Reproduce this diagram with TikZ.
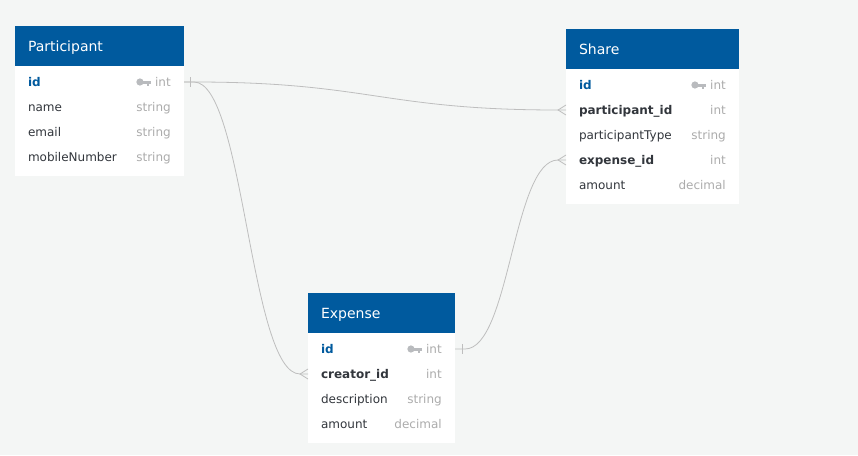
\documentclass[tikz,border=0pt]{standalone}
\usepackage{fontspec}
\setmainfont{DejaVu Sans}
\usetikzlibrary{calc,positioning}
\definecolor{bgcol}{RGB}{244,246,245}
\definecolor{hdrblue}{RGB}{0,90,158}
\definecolor{darktxt}{RGB}{50,54,60}
\definecolor{typegray}{RGB}{172,172,172}
\definecolor{keygray}{RGB}{185,187,190}
\definecolor{linkgray}{RGB}{190,190,190}
\newcommand{\rowfont}{\fontsize{12}{14}\selectfont}
\newcommand{\hdrfont}{\fontsize{14}{16}\selectfont}
\newcommand{\keyicon}[1]{%
  \fill[keygray] ($(#1.west)+(-15,0)$) circle (3.6);
  \fill[keygray] ($(#1.west)+(-13,-1.5)$) rectangle ($(#1.west)+(-4,1.5)$);
  \fill[keygray] ($(#1.west)+(-7.5,1.5)$) rectangle ($(#1.west)+(-5.5,3.5)$);}
\tikzset{
  hdr/.style={fill=hdrblue, text=white, font=\hdrfont, anchor=north west,
    minimum height=40pt, inner xsep=13pt, inner ysep=0pt, outer sep=0pt,
    text width=#1, align=left, text height=13.5pt, text depth=3pt},
  row/.style={font=\rowfont, text=darktxt, minimum height=25pt, inner xsep=13pt,
    inner ysep=0pt, outer sep=0pt, text width=#1, align=left,
    text height=11pt, text depth=2.5pt},
  pkey/.style={font=\rowfont\bfseries, text=hdrblue},
  fkey/.style={font=\rowfont\bfseries},
  typ/.style={font=\rowfont, text=typegray, inner sep=0pt, anchor=east,
    text height=11pt, text depth=2.5pt},
  link/.style={draw=linkgray, line width=0.8pt}
}
\begin{document}
\begin{tikzpicture}[x=1pt,y=-1pt]
  \fill[bgcol] (0,0) rectangle (858,455);
  \useasboundingbox (0,0) rectangle (858,455);

  % Participant
  \node[hdr=143pt] (participant) at (15,26) {Participant};
  \node[row=143pt, below=3.5pt of participant] (participant-id) {};
  \node[row=143pt, below=0pt of participant-id] (participant-name) {};
  \node[row=143pt, below=0pt of participant-name] (participant-email) {};
  \node[row=143pt, below=0pt of participant-email] (participant-mobile) {};
  \fill[white] (participant.south west) rectangle ([yshift=-6.5pt]participant-mobile.south east);
  \node[row=143pt, pkey] at (participant-id) {id};
  \node[row=143pt] at (participant-name) {name};
  \node[row=143pt] at (participant-email) {email};
  \node[row=143pt] at (participant-mobile) {mobileNumber};
  \node[typ] (participant-id-t) at ([xshift=-13pt]participant-id.east) {int};
  \node[typ] at ([xshift=-13pt]participant-name.east) {string};
  \node[typ] at ([xshift=-13pt]participant-email.east) {string};
  \node[typ] at ([xshift=-13pt]participant-mobile.east) {string};
  \keyicon{participant-id-t}

  % Share
  \node[hdr=147pt] (share) at (566,29) {Share};
  \node[row=147pt, below=3.5pt of share] (share-id) {};
  \node[row=147pt, below=0pt of share-id] (share-pid) {};
  \node[row=147pt, below=0pt of share-pid] (share-ptype) {};
  \node[row=147pt, below=0pt of share-ptype] (share-eid) {};
  \node[row=147pt, below=0pt of share-eid] (share-amount) {};
  \fill[white] (share.south west) rectangle ([yshift=-6.5pt]share-amount.south east);
  \node[row=147pt, pkey] at (share-id) {id};
  \node[row=147pt, fkey] at (share-pid) {participant\_id};
  \node[row=147pt] at (share-ptype) {participantType};
  \node[row=147pt, fkey] at (share-eid) {expense\_id};
  \node[row=147pt] at (share-amount) {amount};
  \node[typ] (share-id-t) at ([xshift=-13pt]share-id.east) {int};
  \node[typ] at ([xshift=-13pt]share-pid.east) {int};
  \node[typ] at ([xshift=-13pt]share-ptype.east) {string};
  \node[typ] at ([xshift=-13pt]share-eid.east) {int};
  \node[typ] at ([xshift=-13pt]share-amount.east) {decimal};
  \keyicon{share-id-t}

  % Expense
  \node[hdr=121pt] (expense) at (308,293) {Expense};
  \node[row=121pt, below=3.5pt of expense] (expense-id) {};
  \node[row=121pt, below=0pt of expense-id] (expense-cid) {};
  \node[row=121pt, below=0pt of expense-cid] (expense-desc) {};
  \node[row=121pt, below=0pt of expense-desc] (expense-amount) {};
  \fill[white] (expense.south west) rectangle ([yshift=-6.5pt]expense-amount.south east);
  \node[row=121pt, pkey] at (expense-id) {id};
  \node[row=121pt, fkey] at (expense-cid) {creator\_id};
  \node[row=121pt] at (expense-desc) {description};
  \node[row=121pt] at (expense-amount) {amount};
  \node[typ] (expense-id-t) at ([xshift=-13pt]expense-id.east) {int};
  \node[typ] at ([xshift=-13pt]expense-cid.east) {int};
  \node[typ] at ([xshift=-13pt]expense-desc.east) {string};
  \node[typ] at ([xshift=-13pt]expense-amount.east) {decimal};
  \keyicon{expense-id-t}

  % links
  \draw[link] (participant-id.east) -- ++(10,0)
    .. controls +(175,0) and +(-175,0) .. ([xshift=-8pt]share-pid.west) -- (share-pid.west);
  \draw[link] (participant-id.east) -- ++(10,0)
    .. controls +(50,0) and +(-50,0) .. ([xshift=-8pt]expense-cid.west) -- (expense-cid.west);
  \draw[link] (expense-id.east) -- ++(10,0)
    .. controls +(45,0) and +(-45,0) .. ([xshift=-8pt]share-eid.west) -- (share-eid.west);

  % one ends
  \draw[link] ([xshift=6pt,yshift=5pt]participant-id.east) -- ([xshift=6pt,yshift=-5pt]participant-id.east);
  \draw[link] ([xshift=7pt,yshift=5pt]expense-id.east) -- ([xshift=7pt,yshift=-5pt]expense-id.east);

  % many ends
  \draw[link] ([yshift=5pt]share-pid.west) -- ([xshift=-8pt]share-pid.west) -- ([yshift=-5pt]share-pid.west);
  \draw[link] ([yshift=5pt]share-eid.west) -- ([xshift=-8pt]share-eid.west) -- ([yshift=-5pt]share-eid.west);
  \draw[link] ([yshift=5pt]expense-cid.west) -- ([xshift=-8pt]expense-cid.west) -- ([yshift=-5pt]expense-cid.west);
\end{tikzpicture}
\end{document}
